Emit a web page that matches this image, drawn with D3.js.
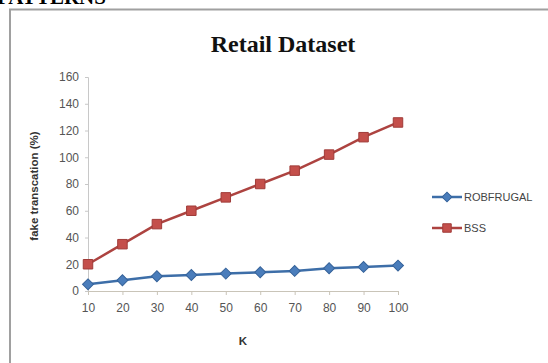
<!DOCTYPE html>
<html>
<head>
<meta charset="utf-8">
<script src="https://cdn.jsdelivr.net/npm/d3@7"></script>
<style>
  html, body { margin: 0; padding: 0; background: #fff; }
  svg { display: block; }
</style>
</head>
<body>
<svg id="chart" width="548" height="363"></svg>
<script>
// Category axis (K) and the two series of fake-transaction percentages
const categories = [10, 20, 30, 40, 50, 60, 70, 80, 90, 100];
const robfrugal = [5, 8, 11, 12, 13, 14, 15, 17, 18, 19];
const bss = [20, 35, 50, 60, 70, 80, 90, 102, 115, 126];
const yTicks = [0, 20, 40, 60, 80, 100, 120, 140, 160];
const seriesNames = ["ROBFRUGAL", "BSS"];

const svg = d3.select("#chart");

// Heading of the surrounding page, cut off at the top edge
svg.append("text")
  .attr("x", -3).attr("y", 4)
  .attr("font-family", "Liberation Serif, Times New Roman, serif")
  .attr("font-weight", "bold").attr("font-size", 21)
  .attr("fill", "#000")
  .text("PATTERNS");

// Chart frame
svg.append("rect")
  .attr("x", 10).attr("y", 9.5)
  .attr("width", 600).attr("height", 400)
  .attr("fill", "#fff")
  .attr("stroke", "#a0a0a0").attr("stroke-width", 2);

// Title
svg.append("text")
  .attr("x", 283).attr("y", 52)
  .attr("text-anchor", "middle")
  .attr("font-family", "Liberation Serif, Times New Roman, serif")
  .attr("font-weight", "bold").attr("font-size", 24)
  .attr("fill", "#111")
  .text("Retail Dataset");

const x = d3.scalePoint().domain(categories).range([88, 398]);
const y = d3.scaleLinear().domain([0, 160]).range([291, 77]);

const labelFont = "Liberation Sans Narrow, Liberation Sans, Arial, sans-serif";

// Y axis
const yAxis = svg.append("g")
  .attr("transform", "translate(88,0)")
  .call(d3.axisLeft(y).tickValues(yTicks).tickSize(3).tickPadding(6));
yAxis.select(".domain").attr("stroke", "#c8c8c8");
yAxis.selectAll(".tick line").attr("stroke", "#c8c8c8");
yAxis.selectAll(".tick text")
  .attr("font-family", labelFont).attr("font-size", 12).attr("fill", "#555");

// X axis
const xAxis = svg.append("g")
  .attr("transform", "translate(0,291)")
  .call(d3.axisBottom(x).tickSize(4).tickPadding(8).tickSizeOuter(0));
xAxis.select(".domain").attr("stroke", "#c9c4b8");
xAxis.selectAll(".tick line").attr("stroke", "#c9c4b8");
xAxis.selectAll(".tick text")
  .attr("font-family", labelFont).attr("font-size", 12).attr("fill", "#555");

// Axis titles
svg.append("text")
  .attr("transform", "translate(38,186) rotate(-90)")
  .attr("text-anchor", "middle")
  .attr("font-family", labelFont).attr("font-weight", "bold")
  .attr("font-size", 11.5).attr("fill", "#333")
  .text("fake transcation (%)");

svg.append("text")
  .attr("x", 243).attr("y", 345)
  .attr("text-anchor", "middle")
  .attr("font-family", labelFont).attr("font-weight", "bold")
  .attr("font-size", 11.5).attr("fill", "#333")
  .text("K");

const line = d3.line()
  .x((d, i) => x(categories[i]))
  .y(d => y(d));

// Diamonds are squares turned by 45 degrees
const series = [
  { name: seriesNames[0], values: robfrugal, line: "#3d6ea8", fill: "#4a7dbb", stroke: "#36639a", symbol: d3.symbolSquare, size: 60, rot: 45 },
  { name: seriesNames[1], values: bss, line: "#ad4340", fill: "#c44f4b", stroke: "#a03c39", symbol: d3.symbolSquare, size: 90, rot: 0 }
];

series.forEach(s => {
  svg.append("path")
    .datum(s.values)
    .attr("d", line)
    .attr("fill", "none")
    .attr("stroke", s.line)
    .attr("stroke-width", 2.5);
  svg.append("g").selectAll("path")
    .data(s.values)
    .join("path")
    .attr("transform", (d, i) => `translate(${x(categories[i])},${y(d)}) rotate(${s.rot})`)
    .attr("d", d3.symbol().type(s.symbol).size(s.size))
    .attr("fill", s.fill)
    .attr("stroke", s.stroke)
    .attr("stroke-width", 1);
});

// Legend
const legend = svg.append("g");
series.forEach((s, i) => {
  const ly = 197 + i * 31;
  legend.append("line")
    .attr("x1", 432).attr("x2", 462).attr("y1", ly).attr("y2", ly)
    .attr("stroke", s.line).attr("stroke-width", 2.5);
  legend.append("path")
    .attr("transform", `translate(447,${ly}) rotate(${s.rot})`)
    .attr("d", d3.symbol().type(s.symbol).size(s.size * 0.8))
    .attr("fill", s.fill).attr("stroke", s.stroke);
  legend.append("text")
    .attr("x", 464).attr("y", ly + 4)
    .attr("font-family", labelFont).attr("font-size", 11)
    .attr("fill", "#444")
    .text(s.name);
});
</script>
</body>
</html>
